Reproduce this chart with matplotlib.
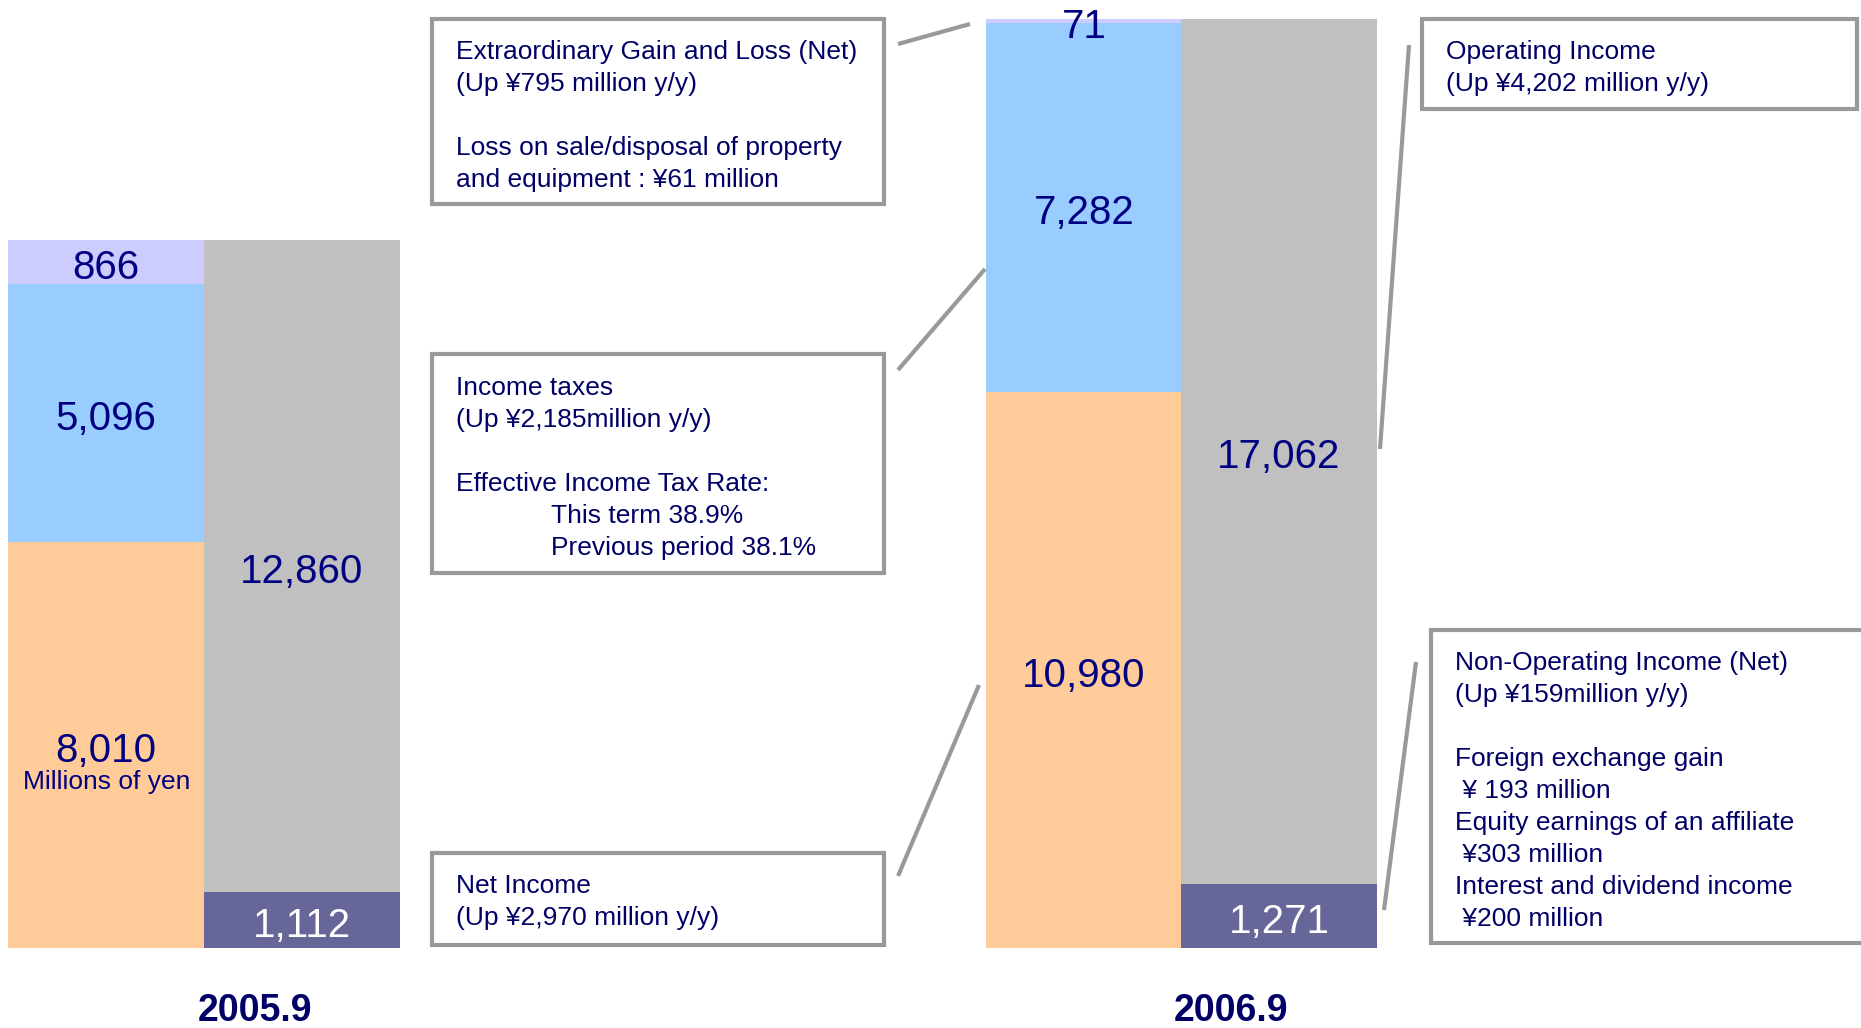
import matplotlib.pyplot as plt
from matplotlib.patches import Rectangle
from matplotlib.transforms import offset_copy

plt.rcParams['font.family'] = ['Liberation Sans', 'DejaVu Sans']

# values in millions of yen
periods = ["2005.9", "2006.9"]
net_income = [8010, 10980]
income_taxes = [5096, 7282]
extraordinary = [866, 71]
non_operating = [1112, 1271]
operating_income = [12860, 17062]

NAVY = "#000080"
DARK = "#000066"
GRAY_LINE = "#999999"

fig = plt.figure(figsize=(18.61, 10.28), dpi=100)
ax = fig.add_axes([0, 0, 1, 1])
ax.axis("off")

# y scale: bar bottoms at pixel 948, 13972 units -> 708 px
k = 708 / 13972.0
ax.set_xlim(0, 1861)
ax.set_ylim(-80 / k, 948 / k)

left_x = [8, 986]
right_x = [204, 1181]
w = 196

# left stacks: net income / taxes / extraordinary
b1 = ax.bar(left_x, net_income, width=w, align="edge", color="#FFCC99")
b2 = ax.bar(left_x, income_taxes, width=w, align="edge", bottom=net_income,
            color="#99CCFF")
bottom3 = [a + b for a, b in zip(net_income, income_taxes)]
b3 = ax.bar(left_x, extraordinary, width=w, align="edge", bottom=bottom3,
            color="#CCCCFF")
# right stacks: non-operating / operating
b4 = ax.bar(right_x, non_operating, width=w, align="edge", color="#666699")
b5 = ax.bar(right_x, operating_income, width=w, align="edge",
            bottom=non_operating, color="#C0C0C0")

# nudge labels down a few pixels to sit like the original
lab_tr = offset_copy(ax.transData, fig=fig, x=0, y=-6, units="dots")


def label_bars(bars, vals, bottoms, color=NAVY):
    for bar, v, b in zip(bars, vals, bottoms):
        cx = bar.get_x() + bar.get_width() / 2
        ax.text(cx, b + v / 2, f"{v:,}", ha="center", va="center",
                fontsize=29, color=color, transform=lab_tr)


label_bars(b1, net_income, [0, 0])
label_bars(b2, income_taxes, net_income)
label_bars(b3, extraordinary, bottom3)
label_bars(b4, non_operating, [0, 0], color="white")
label_bars(b5, operating_income, non_operating)

# overlay in pixel coords for callouts
ov = fig.add_axes([0, 0, 1, 1])
ov.set_xlim(0, 1861)
ov.set_ylim(1028, 0)
ov.axis("off")
ov.patch.set_alpha(0)

ov.text(107, 782, "Millions of yen", ha="center", va="center",
        fontsize=19, color=NAVY)

for x, p in zip([255, 1231], periods):
    ov.text(x, 1021, p, ha="center", va="baseline", fontsize=27,
            fontweight="bold", color=DARK)

# (box x, y, w, h, text x, first line y, lines); a line may be (indent, text)
boxes = [
    (432, 19, 452, 185, 456, 52, [
        "Extraordinary Gain and Loss (Net)",
        "(Up \u00a5795 million y/y)",
        "",
        "Loss on sale/disposal of property",
        "and equipment : \u00a561 million"]),
    (432, 354, 452, 219, 456, 388, [
        "Income taxes",
        "(Up \u00a52,185million y/y)",
        "",
        "Effective Income Tax Rate:",
        (95, "This term 38.9%"),
        (95, "Previous period 38.1%")]),
    (432, 853, 452, 92, 456, 886, [
        "Net Income",
        "(Up \u00a52,970 million y/y)"]),
    (1422, 19, 435, 90, 1446, 52, [
        "Operating Income",
        "(Up \u00a54,202 million y/y)"]),
    (1431, 630, 450, 313, 1455, 663, [
        "Non-Operating Income (Net)",
        "(Up \u00a5159million y/y)",
        "",
        "Foreign exchange gain",
        " \u00a5 193 million",
        "Equity earnings of an affiliate",
        " \u00a5303 million",
        "Interest and dividend income",
        " \u00a5200 million"]),
]

for bx, by, bw, bh, tx, ty, lines in boxes:
    ov.add_patch(Rectangle((bx, by), bw, bh, facecolor="white",
                           edgecolor=GRAY_LINE, linewidth=3, zorder=2))
    for i, line in enumerate(lines):
        indent = 0
        if isinstance(line, tuple):
            indent, line = line
        if line:
            ov.text(tx + indent, ty + i * 32, line, ha="left", va="center",
                    fontsize=19, color=DARK, zorder=3)

connectors = [
    ((898, 970), (44, 24)),
    ((898, 985), (370, 269)),
    ((898, 979), (876, 685)),
    ((1380, 1409), (449, 45)),
    ((1384, 1416), (910, 662)),
]
for xs, ys in connectors:
    ov.plot(xs, ys, color=GRAY_LINE, linewidth=3, solid_capstyle="butt")

fig.savefig("out.png", dpi=100)
